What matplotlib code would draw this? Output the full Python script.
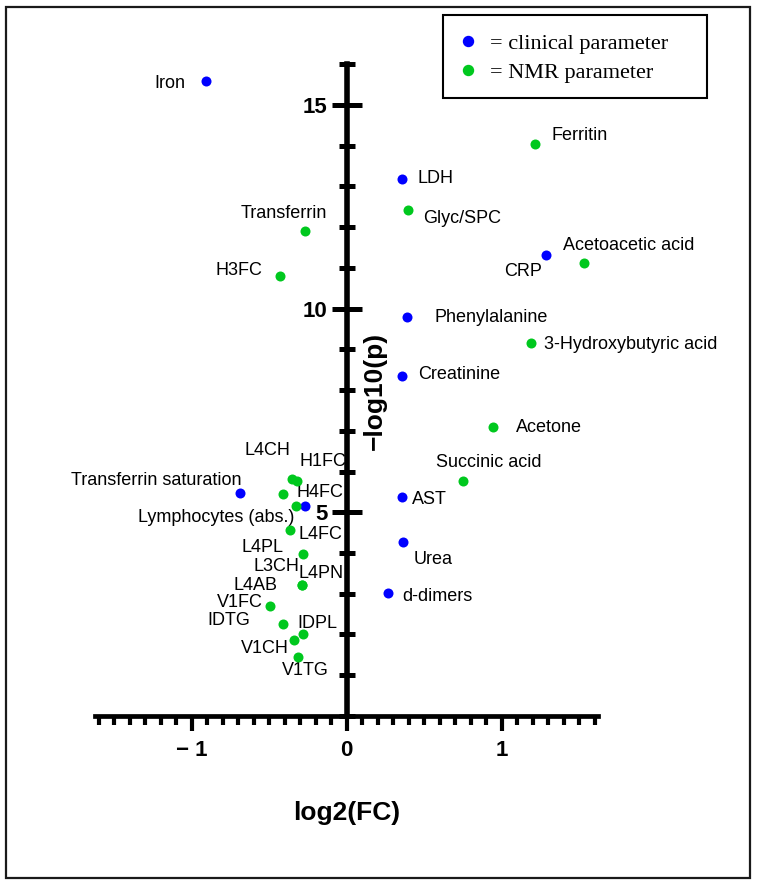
import matplotlib.pyplot as plt
from matplotlib.lines import Line2D
from matplotlib.patches import Rectangle
import numpy as np

plt.rcParams['font.family'] = ['Liberation Sans', 'DejaVu Sans']

# clinical parameters (blue)
clinical_names = ['Iron', 'LDH', 'CRP', 'Phenylalanine', 'Creatinine', 'AST', 'Urea',
                  'd-dimers', 'Transferrin saturation', 'Lymphocytes (abs.)']
clinical_fc = [-0.908, 0.358, 1.286, 0.388, 0.356, 0.360, 0.366, 0.270, -0.685, -0.270]
clinical_p = [15.58, 13.17, 11.32, 9.78, 8.34, 5.37, 4.26, 3.01, 5.48, 5.15]

# NMR parameters (green)
nmr_names = ['Ferritin', 'Glyc/SPC', 'Acetoacetic acid', '3-Hydroxybutyric acid', 'Acetone',
             'Succinic acid', 'Transferrin', 'H3FC', 'L4CH', 'H1FC', 'H4FC', 'L4FC', 'L4PL',
             'L3CH', 'L4PN', 'L4AB', 'V1FC', 'IDTG', 'IDPL', 'V1CH', 'V1TG']
nmr_fc = [1.216, 0.395, 1.534, 1.188, 0.947, 0.750, -0.268, -0.431, -0.350, -0.321, -0.412,
          -0.326, -0.363, -0.281, -0.287, -0.287, -0.494, -0.412, -0.281, -0.337, -0.315]
nmr_p = [14.03, 12.42, 11.12, 9.15, 7.08, 5.77, 11.90, 10.79, 5.82, 5.77, 5.45,
         5.15, 4.56, 3.98, 3.21, 3.21, 2.70, 2.26, 2.00, 1.86, 1.46]

x_major = [-1, 0, 1]
x_major_labels = ['\u2212 1', '0', '1']
y_major = [5, 10, 15]

# label placement: offset in pixels from the dot, horizontal alignment
label_pos = {
    'Iron': (-20, -2, 'right'), 'LDH': (15, 1, 'left'), 'CRP': (-4, -17, 'right'),
    'Phenylalanine': (28, 0, 'left'), 'Creatinine': (16, 2, 'left'), 'AST': (10, -2, 'left'),
    'Urea': (10, -17, 'left'), 'd-dimers': (14, -3, 'left'),
    'Transferrin saturation': (1, 12, 'right'), 'Lymphocytes (abs.)': (-10, -11, 'right'),
    'Ferritin': (17, 9, 'left'), 'Glyc/SPC': (15, -9, 'left'),
    'Acetoacetic acid': (-21, 17, 'left'), '3-Hydroxybutyric acid': (13, -1, 'left'),
    'Acetone': (23, 0, 'left'), 'Succinic acid': (-27, 18, 'left'),
    'Transferrin': (22, 18, 'right'), 'H3FC': (-17, 6, 'right'),
    'L4CH': (-2, 28, 'right'), 'H1FC': (3, 19, 'left'), 'H4FC': (14, 1, 'left'),
    'L4FC': (3, -28, 'left'), 'L4PL': (-7, -17, 'right'), 'L3CH': (-4, -13, 'right'),
    'L4PN': (-4, 12, 'left'), 'L4AB': (-25, 0, 'right'), 'V1FC': (-7, 3, 'right'),
    'IDTG': (-32, 3, 'right'), 'IDPL': (-6, 11, 'left'), 'V1CH': (-5, -8, 'right'),
    'V1TG': (8, -14, 'center'),
}

blue = '#0000ff'
green = '#00c81e'

fig = plt.figure(figsize=(7.61, 8.88), dpi=100)
ax = fig.add_axes([0.1254, 0.1937, 0.6599, 0.7342])

ax.scatter(clinical_fc, clinical_p, s=52, color=blue, zorder=3, linewidths=0)
ax.scatter(nmr_fc, nmr_p, s=52, color=green, zorder=3, linewidths=0)

for names, xs, ys in [(clinical_names, clinical_fc, clinical_p), (nmr_names, nmr_fc, nmr_p)]:
    for name, x, y in zip(names, xs, ys):
        dx, dy, ha = label_pos[name]
        ax.annotate(name, (x, y), xytext=(dx, dy), textcoords='offset pixels',
                    ha=ha, va='center', fontsize=13, zorder=1)

ax.set_xlim(-1.62, 1.62)
ax.set_ylim(0, 16)

ax.spines['left'].set_position(('data', 0))
ax.spines['top'].set_visible(False)
ax.spines['right'].set_visible(False)
ax.spines['left'].set_linewidth(4)
ax.spines['bottom'].set_linewidth(3.4)

ax.set_xticks(x_major)
ax.set_xticklabels(x_major_labels)
ax.set_xticks(np.arange(-1.6, 1.61, 0.1), minor=True)
ax.set_yticks(y_major)
ax.set_yticks(np.arange(0, 17, 1), minor=True)

ax.tick_params(axis='x', which='major', direction='out', length=11, width=3, pad=6)
ax.tick_params(axis='x', which='minor', direction='out', length=6.5, width=3)
ax.tick_params(axis='y', which='major', direction='inout', length=21.6, width=3.6, pad=3)
ax.tick_params(axis='y', which='minor', direction='inout', length=12.2, width=3.6)
for lab in ax.get_xticklabels() + ax.get_yticklabels():
    lab.set_fontsize(16)
    lab.set_fontweight('bold')

ax.set_xlabel('log2(FC)', fontsize=19, fontweight='bold')
ax.xaxis.set_label_coords(0.5, -0.13)
ax.text(0.556, 0.499, '\u2212log10(p)', transform=ax.transAxes, rotation=90,
        ha='center', va='center', fontsize=19, fontweight='bold')

handles = [Line2D([], [], marker='o', color=blue, ls='', markersize=7.2),
           Line2D([], [], marker='o', color=green, ls='', markersize=7.2)]
fig.legend(handles, ['= clinical parameter', '= NMR parameter'], loc='center left',
           bbox_to_anchor=(456.6 / 761, 1 - 58 / 888), frameon=False, borderpad=0,
           borderaxespad=0, handlelength=1.0, handletextpad=0.5, labelspacing=0.4,
           prop={'family': 'Liberation Serif', 'size': 16})
fig.add_artist(Rectangle((443 / 761, 1 - 98 / 888), 264 / 761, 83 / 888,
                         transform=fig.transFigure, fill=False, lw=1.5, ec='black'))
fig.add_artist(Rectangle((6 / 761, 1 - 878 / 888), 744 / 761, 871 / 888,
                         transform=fig.transFigure, fill=False, lw=1.6, ec='#1a1a1a'))

fig.savefig('out.png', dpi=100)
